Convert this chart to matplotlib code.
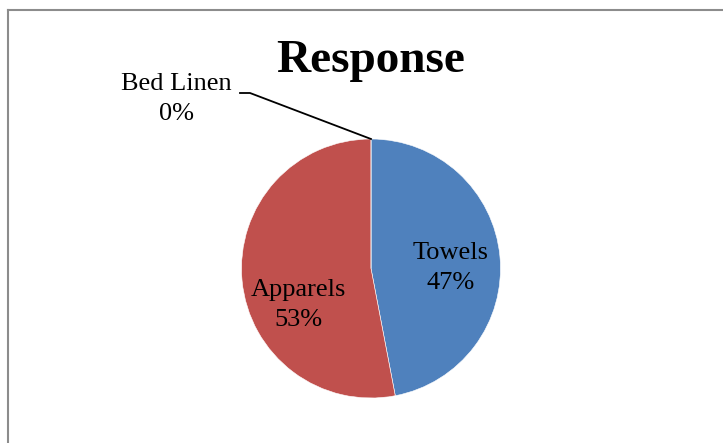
import matplotlib.pyplot as plt
from matplotlib.lines import Line2D

# data
categories = ["Towels", "Apparels", "Bed Linen"]
shares = [47, 53, 0]
colors = ["#4F81BD", "#C0504D", "#9BBB59"]

W, H = 723, 443
fig = plt.figure(figsize=(W / 100, H / 100), dpi=100)
ax = fig.add_axes([0, 0, 1, 1])
ax.set_xlim(0, W)
ax.set_ylim(0, H)
ax.set_aspect("equal")
ax.axis("off")

plt.rcParams["font.family"] = ["Liberation Serif", "DejaVu Serif"]

cx, cy, r = 371, H - 268.5, 129.5
wedges, _ = ax.pie(shares, colors=colors, startangle=90, counterclock=False,
                   center=(cx, cy), radius=r,
                   wedgeprops=dict(edgecolor="white", linewidth=0.4))
ax.set_xlim(0, W)
ax.set_ylim(0, H)

# labels inside the slices
ax.text(451, H - 268, f"{categories[0]}\n{shares[0]}%", ha="center", va="center",
        fontsize=19, linespacing=1.5)
ax.text(298, H - 305, f"{categories[1]}\n{shares[1]}%", ha="center", va="center",
        fontsize=19, linespacing=1.5)

# outside label with leader line for the zero slice
ax.text(176, H - 99, f"{categories[2]}\n{shares[2]}%", ha="center", va="center",
        fontsize=19, linespacing=1.5)
ax.plot([cx, 250, 240], [cy + r, H - 93, H - 93], color="black", lw=1.3)

ax.text(371, H - 61, "Response", ha="center", va="center",
        fontsize=34, fontweight="bold")

# chart border (partly cut off)
fig.add_artist(Line2D([8 / W, 8 / W], [0, 1 - 10 / H], transform=fig.transFigure,
                      color="#8c8c8c", lw=1.5))
fig.add_artist(Line2D([8 / W, 1], [1 - 10 / H, 1 - 10 / H], transform=fig.transFigure,
                      color="#8c8c8c", lw=1.5))

fig.savefig("out.png", dpi=100)
